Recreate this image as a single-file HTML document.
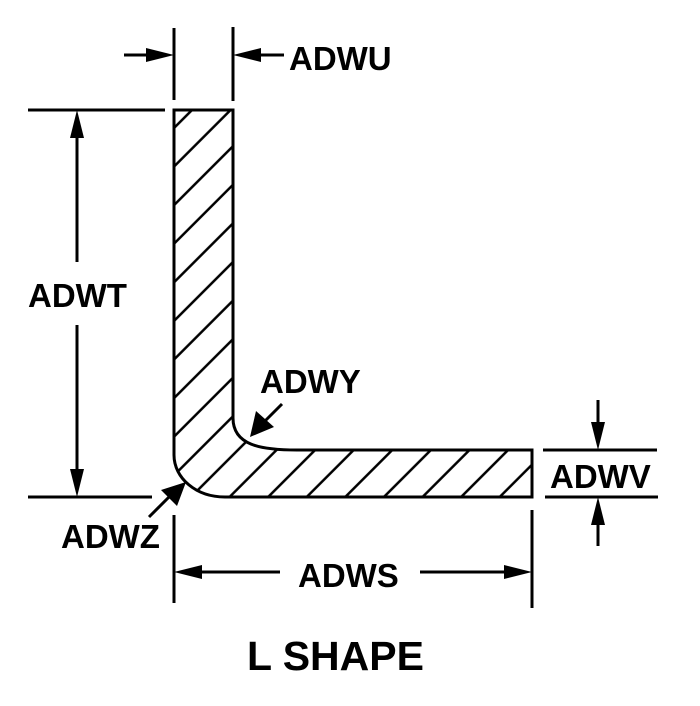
<!DOCTYPE html>
<html><head><meta charset="utf-8"><style>
html,body{margin:0;padding:0;background:#fff;width:700px;height:706px;overflow:hidden;}
svg{display:block;}
text{font-family:"Liberation Sans",Arial,sans-serif;font-weight:bold;fill:#000;}
</style></head><body>
<svg width="700" height="706" viewBox="0 0 700 706" xmlns="http://www.w3.org/2000/svg">
<defs>
<pattern id="h" patternUnits="userSpaceOnUse" width="27.29" height="20" patternTransform="rotate(45)">
<line x1="22.5" y1="-5" x2="22.5" y2="25" stroke="#000" stroke-width="2.5"/>
</pattern>
</defs>
<path d="M174,110 H233 V418 C233,445 260,450 297,450 H532 V497 H225 C196,497 174,478 174,455 Z" fill="url(#h)" stroke="#000" stroke-width="3"/>
<g stroke="#000" stroke-width="3" fill="none">
<line x1="174" y1="28" x2="174" y2="100"/>
<line x1="233" y1="27" x2="233" y2="101"/>
<line x1="124" y1="55" x2="160" y2="55"/>
<line x1="247" y1="55" x2="284" y2="55"/>
<line x1="28" y1="110" x2="165" y2="110"/>
<line x1="28" y1="497" x2="152" y2="497"/>
<line x1="77" y1="125" x2="77" y2="262"/>
<line x1="77" y1="325" x2="77" y2="482"/>
<line x1="282" y1="404" x2="262" y2="424"/>
<line x1="149" y1="517" x2="170" y2="496"/>
<line x1="543" y1="450" x2="657" y2="450"/>
<line x1="545" y1="497" x2="658" y2="497"/>
<line x1="598" y1="400" x2="598" y2="425"/>
<line x1="598" y1="520" x2="598" y2="546"/>
<line x1="174" y1="515" x2="174" y2="603"/>
<line x1="532" y1="510" x2="532" y2="608"/>
<line x1="190" y1="572" x2="280" y2="572"/>
<line x1="420" y1="572" x2="515" y2="572"/>
</g>
<g fill="#000">
<polygon points="174,55 146,48 146,62"/>
<polygon points="233,55 261,48 261,62"/>
<polygon points="77,110 70,138 84,138"/>
<polygon points="77,497 70,469 84,469"/>
<polygon points="250,437 256,411 274,427"/>
<polygon points="186,482 161,490 177,506"/>
<polygon points="598,450 591,422 605,422"/>
<polygon points="598,497 591,525 605,525"/>
<polygon points="174,572 202,565 202,579"/>
<polygon points="532,572 504,565 504,579"/>
</g>
<text x="289" y="70" font-size="33">ADWU</text>
<text x="28" y="307" font-size="33">ADWT</text>
<text x="260" y="393" font-size="33">ADWY</text>
<text x="61" y="548" font-size="33">ADWZ</text>
<text x="550" y="488" font-size="33">ADWV</text>
<text x="298" y="587" font-size="33">ADWS</text>
<text x="247" y="670" font-size="41">L SHAPE</text>
</svg>
</body></html>
